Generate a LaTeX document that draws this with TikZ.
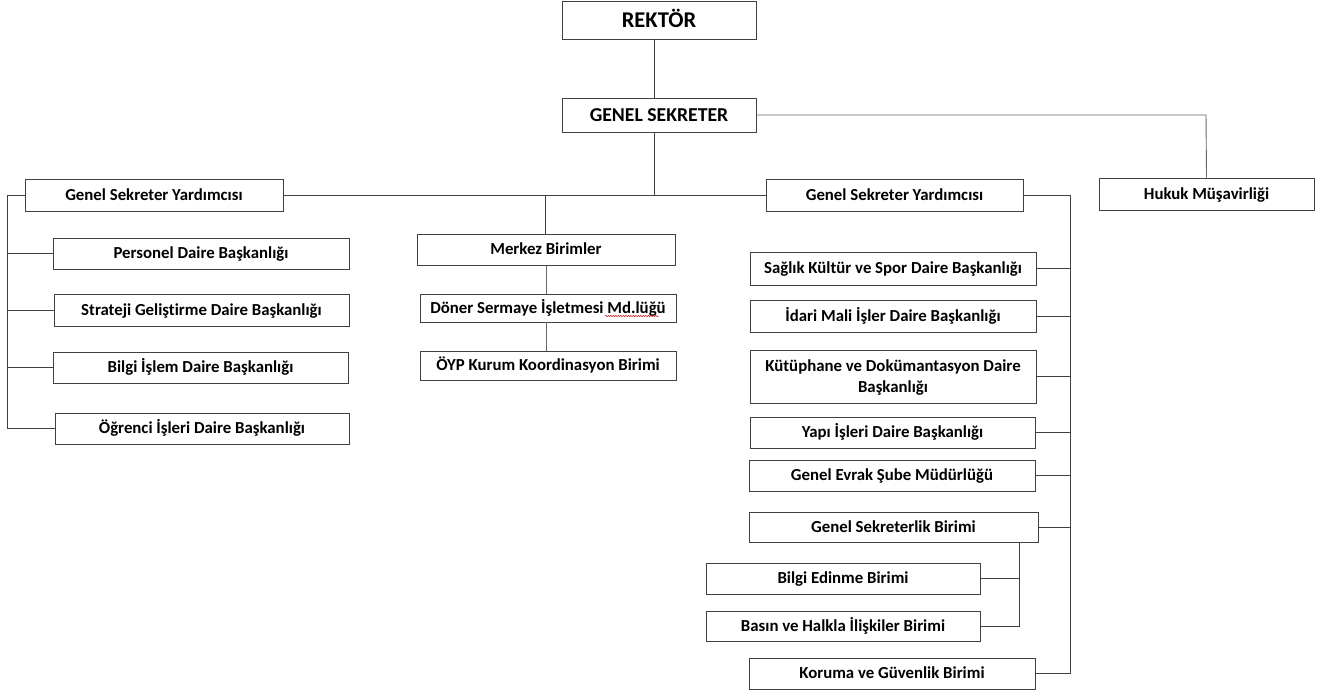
\documentclass[tikz,border=0pt]{standalone}
\usepackage{fontspec}
\setmainfont{Carlito}[Ligatures=NoCommon]
\usetikzlibrary{decorations.pathmorphing}
\begin{document}
\begin{tikzpicture}[x=1pt,y=-1pt,
  box/.style={draw=black!75, line width=0.9pt, fill=white, inner sep=0pt, text height=10.4pt, text depth=0pt, font=\bfseries\fontsize{16.8}{19}\selectfont, align=center},
  conn/.style={draw=black!75, line width=0.9pt}]
\useasboundingbox (0,0) rectangle (1324,690);
% top
\node[box, minimum width=194, minimum height=38, text height=14.2pt, font=\bfseries\fontsize{22.5}{25}\selectfont] (rek) at (659,20) {REKTÖR};
\node[box, minimum width=194, minimum height=34, text height=12.4pt, font=\bfseries\fontsize{19.7}{22}\selectfont] (gs) at (659,115) {GENEL SEKRETER};
% level 2
\node[box, minimum width=258, minimum height=32] (gsyL) at (154,195) {Genel Sekreter Yardımcısı};
\node[box, minimum width=257, minimum height=32] (gsyR) at (894.5,195) {Genel Sekreter Yardımcısı};
\node[box, minimum width=215, minimum height=32] (huk) at (1206.5,194) {Hukuk Müşavirliği};
% middle column
\node[box, minimum width=258, minimum height=31] (mer) at (546,249.5) {Merkez Birimler};
\node[box, minimum width=256, minimum height=28] (don) at (548,308) {Döner Sermaye İşletmesi Md.lüğü};
\node[box, minimum width=256, minimum height=29] (oyp) at (548,365.5) {ÖYP Kurum Koordinasyon Birimi};
% left column
\node[box, minimum width=296, minimum height=31] (per) at (201,253.5) {Personel Daire Başkanlığı};
\node[box, minimum width=295, minimum height=32] (str) at (201.5,310) {Strateji Geliştirme Daire Başkanlığı};
\node[box, minimum width=295, minimum height=31] (bil) at (200.5,367.5) {Bilgi İşlem Daire Başkanlığı};
\node[box, minimum width=294, minimum height=31] (ogr) at (202,428.5) {Öğrenci İşleri Daire Başkanlığı};
% right column
\node[box, minimum width=286, minimum height=33] (sag) at (893,268.5) {Sağlık Kültür ve Spor Daire Başkanlığı};
\node[box, minimum width=286, minimum height=32] (ida) at (893,316) {İdari Mali İşler Daire Başkanlığı};
\node[box, minimum width=286, minimum height=53, text height=31.4pt, font=\bfseries\fontsize{16.8}{21}\selectfont] (kut) at (893,376.5) {Kütüphane ve Dokümantasyon Daire\\Başkanlığı};
\node[box, minimum width=285, minimum height=31] (yap) at (892.5,432.5) {Yapı İşleri Daire Başkanlığı};
\node[box, minimum width=286, minimum height=31] (evr) at (892,475.5) {Genel Evrak Şube Müdürlüğü};
\node[box, minimum width=289, minimum height=30] (gsb) at (893.5,527) {Genel Sekreterlik Birimi};
\node[box, minimum width=274, minimum height=31] (edi) at (843,578.5) {Bilgi Edinme Birimi};
\node[box, minimum width=274, minimum height=30] (bas) at (843,626) {Basın ve Halkla İlişkiler Birimi};
\node[box, minimum width=286, minimum height=31] (kor) at (892,673.5) {Koruma ve Güvenlik Birimi};
% spell-check underline
\draw[red!80!black, line width=0.5pt, decorate, decoration={snake, amplitude=0.6pt, segment length=2.5pt}] (605,316) -- (659,316);
% coordinates
\coordinate (jn) at (654,195);
\coordinate (lb) at (7,195);
\coordinate (rb) at (1070,195);
\coordinate (hk) at (1206,115);
\coordinate (sb) at (1019,543);
% connectors
\draw[conn] ([xshift=-5pt]rek.south) -- ([xshift=-5pt]gs.north);
\draw[conn] ([xshift=-5pt]gs.south) -- (jn);
\draw[conn] (gsyL.east) -- (gsyR.west);
\draw[conn] (mer.north -| 545,0) -- (545,195);
\draw[conn, draw=black!60] (gs.east) -- (hk) -- (huk.north);
\draw[conn, draw=black!60] (mer.south -| 546,0) -- (don.north -| 546,0);
\draw[conn, draw=black!60] (don.south -| 546,0) -- (oyp.north -| 546,0);
% left bracket
\draw[conn] (gsyL.west) -- (lb) -- (lb |- ogr.west) -- (ogr.west);
\foreach \n in {per,str,bil} \draw[conn] (lb |- \n.west) -- (\n.west);
% right bracket
\draw[conn] (gsyR.east) -- (rb) -- (rb |- kor.east) -- (kor.east);
\foreach \n in {sag,ida,kut,yap,evr,gsb} \draw[conn] (\n.east) -- (rb |- \n.east);
% sub bracket
\draw[conn] (sb) -- (sb |- bas.east) -- (bas.east);
\draw[conn] (edi.east) -- (sb |- edi.east);
\end{tikzpicture}
\end{document}
